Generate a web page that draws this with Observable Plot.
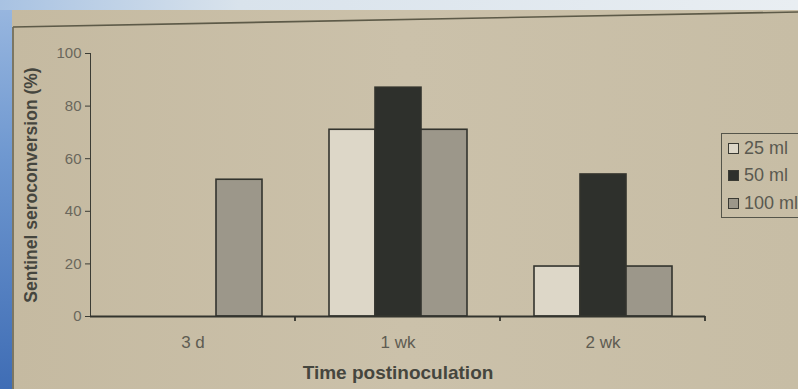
<!DOCTYPE html>
<html>
<head>
<meta charset="utf-8">
<script src="https://cdn.jsdelivr.net/npm/d3@7"></script>
<script src="https://cdn.jsdelivr.net/npm/@observablehq/plot@0.6"></script>
<style>
  html, body { margin: 0; padding: 0; width: 798px; height: 389px; overflow: hidden; }
  body { position: relative; background: linear-gradient(to bottom, #9ab8e0 0%, #6f98d0 40%, #3f6db5 100%); font-family: "Liberation Sans", Arial, sans-serif; }
  #strip { position: absolute; left: 0; top: 0; width: 798px; height: 10px; background: linear-gradient(to right, #a8c2e2 0%, #d9e3ec 30%, #e9eef2 100%); }
  #paper { position: absolute; left: 12px; top: 10px; width: 786px; height: 379px; background: linear-gradient(to right, #c5baa1 0%, #cbc1aa 50%, #c7bda5 100%); }
  #frame { position: absolute; left: 0; top: 0; }
  #chart { position: absolute; left: 0; top: 0; }
  .legend { position: absolute; left: 721px; top: 133px; width: 120px; height: 85px; box-sizing: border-box; border: 1.5px solid #55554a; }
  .legend .row { position: absolute; left: 0; height: 22px; display: flex; align-items: center; white-space: nowrap; }
  .legend .sw { width: 9px; height: 9px; border: 1.3px solid #3a3a33; margin-left: 6px; margin-right: 5px; flex: none; }
  .legend .lab { font-size: 18px; color: #5a5950; }
</style>
</head>
<body>
<div id="strip"></div>
<div id="paper"></div>
<svg id="frame" width="798" height="389">
  <line x1="13" y1="27" x2="798" y2="12" stroke="#5d5a48" stroke-width="1.6"/>
  <line x1="13" y1="27" x2="13" y2="389" stroke="#6a6654" stroke-width="1.6"/>
</svg>
<div id="chart"></div>
<script>
const categories = ["3 d", "1 wk", "2 wk"];
const series = ["25 ml", "50 ml", "100 ml"];
const values25 = [null, 71, 19];
const values50 = [null, 87, 54];
const values100 = [52, 71, 19];
const seriesColors = ["#ddd7c8", "#2e302c", "#9c978a"];
const yTicks = [0, 20, 40, 60, 80, 100];

const seriesValues = [values25, values50, values100];
const rows = [];
categories.forEach((c, ci) => {
  series.forEach((s, si) => {
    const v = seriesValues[si][ci];
    if (v != null) rows.push({time: c, volume: s, value: v});
  });
});

const plot = Plot.plot({
  width: 798,
  height: 389,
  marginLeft: 90,
  marginRight: 93,
  marginTop: 53,
  marginBottom: 73,
  style: {background: "transparent", fontFamily: "Liberation Sans, Arial, sans-serif", fontSize: "15px", color: "#3b3c34", overflow: "visible"},
  fx: {domain: categories, padding: 0, axis: "bottom", tickSize: 0, tickPadding: 19, label: "Time postinoculation", labelAnchor: "center", labelOffset: 62, labelArrow: "none"},
  x: {domain: series, axis: null, paddingInner: 0, paddingOuter: 0.7},
  y: {domain: [0, 100], ticks: yTicks, tickSize: 5, tickPadding: 4, line: true, label: "Sentinel seroconversion (%)", labelAnchor: "center", labelOffset: 66, labelArrow: "none"},
  color: {domain: series, range: seriesColors},
  marks: [
    Plot.barY(rows, {fx: "time", x: "volume", y: "value", fill: "volume", stroke: "#33342e", strokeWidth: 1.6, inset: 0}),
    Plot.ruleY([0], {stroke: "#33342e", strokeWidth: 2})
  ]
});
document.getElementById("chart").appendChild(plot);

const svg = d3.select(plot);
const tickStrings = yTicks.map(String);
svg.selectAll("text").each(function () {
  const t = d3.select(this);
  const s = this.textContent.trim();
  if (s.indexOf("Sentinel") >= 0) {
    t.attr("font-weight", "bold").attr("font-size", "17.5px").attr("fill", "#45463e");
  } else if (s.indexOf("Time") >= 0) {
    t.attr("font-weight", "bold").attr("font-size", "19px").attr("fill", "#45463e");
  } else if (categories.includes(s)) {
    t.attr("font-size", "17px").attr("fill", "#5e5c52");
  } else if (tickStrings.includes(s)) {
    t.attr("font-size", "15px").attr("fill", "#6a675c");
  }
});

// category boundary ticks on the x axis, placed via the fx scale
const fx = plot.scale("fx");
const y0 = plot.scale("y").apply(0);
categories.forEach(c => {
  const xb = fx.apply(c) + fx.bandwidth;
  svg.append("line").attr("x1", xb).attr("x2", xb).attr("y1", y0).attr("y2", y0 + 5)
    .attr("stroke", "#33342e").attr("stroke-width", 1.8);
});

// legend
const legend = d3.select("body").append("div").attr("class", "legend");
series.forEach((s, i) => {
  const row = legend.append("div").attr("class", "row").style("top", (3 + i * 27.5) + "px");
  row.append("div").attr("class", "sw").style("background", seriesColors[i]);
  row.append("div").attr("class", "lab").text(s);
});
</script>
</body>
</html>
